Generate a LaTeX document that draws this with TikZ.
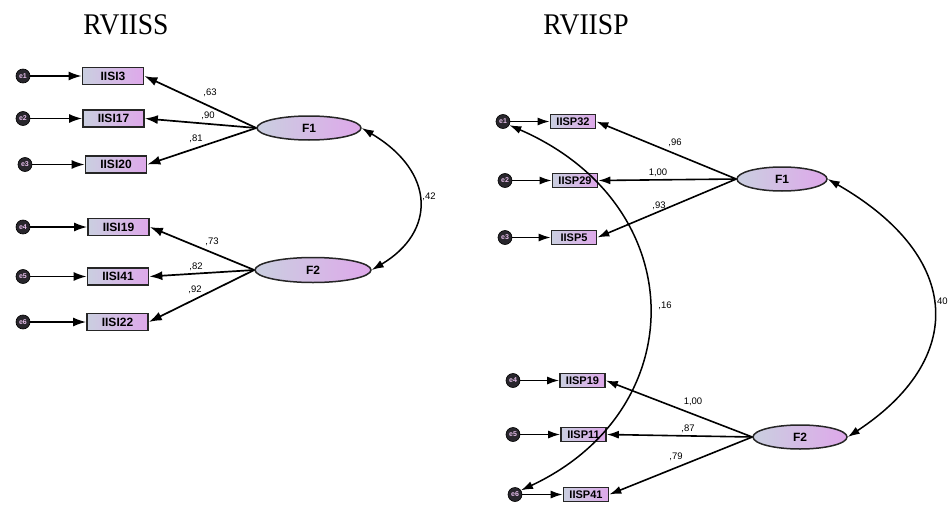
\documentclass[tikz,border=0pt]{standalone}
\usepackage{fontspec}
\setmainfont{Liberation Serif}
\setsansfont{Liberation Sans}
\newfontfamily\titlefont[FakeStretch=0.92]{Liberation Serif}
\usetikzlibrary{arrows.meta,shapes.geometric}
\definecolor{gleft}{RGB}{202,207,224}
\definecolor{gright}{RGB}{222,168,234}
\definecolor{edark}{RGB}{40,38,44}
\definecolor{etext}{RGB}{230,190,235}
\tikzset{
  obsL/.style={draw=black!85, line width=1.7pt, left color=gleft, right color=gright,
    minimum width=61pt, minimum height=17pt, inner sep=0pt,
    font=\sffamily\bfseries\fontsize{12}{12}\selectfont},
  obsR/.style={draw=black!85, line width=1.6pt, left color=gleft, right color=gright,
    minimum width=45pt, minimum height=14pt, inner sep=0pt,
    font=\sffamily\bfseries\fontsize{11}{11}\selectfont},
  latent/.style={ellipse, draw=black!85, line width=1.5pt, left color=gleft, right color=gright,
    inner sep=0pt, font=\sffamily\bfseries\fontsize{12}{12}\selectfont},
  errc/.style={circle, fill=edark, draw=black, line width=0.6pt, minimum size=14pt, inner sep=0pt,
    text=etext, font=\sffamily\bfseries\fontsize{7}{7}\selectfont},
  load/.style={line width=1.7pt, -{Latex[length=13pt,width=9pt]}},
  loadR/.style={line width=1.6pt, -{Latex[length=12pt,width=8pt]}},
  cov/.style={line width=1.5pt, {Latex[length=12pt,width=8pt]}-{Latex[length=12pt,width=8pt]}},
  coef/.style={font=\sffamily\fontsize{9.5}{9.5}\selectfont, inner sep=0pt},
  ttl/.style={font=\titlefont\fontsize{30}{30}\selectfont, inner sep=0pt}
}
\begin{document}
\begin{tikzpicture}[x=1pt,y=-1pt]
\useasboundingbox[fill=white] (0,0) rectangle (951,506);
% titles
\node[ttl] (t1) at (126,25) {RVIISS};
\node[ttl] (t2) at (586,25) {RVIISP};
% ---------------- left model ----------------
\node[obsL] (a1) at (113,76) {IISI3};
\node[obsL] (a2) at (113.5,118.5) {IISI17};
\node[obsL] (a3) at (116,164.5) {IISI20};
\node[obsL] (a4) at (118.5,227) {IISI19};
\node[obsL] (a5) at (118,276.5) {IISI41};
\node[obsL] (a6) at (117.5,322) {IISI22};
\node[latent, minimum width=104pt, minimum height=24pt] (F1a) at (309,128) {F1};
\node[latent, minimum width=116pt, minimum height=25pt] (F2a) at (313,270) {F2};
\node[errc] (ea1) at (23,76) {e1};
\node[errc] (ea2) at (23,118.5) {e2};
\node[errc] (ea3) at (25,164.5) {e3};
\node[errc] (ea4) at (23,227) {e4};
\node[errc] (ea5) at (23,276.5) {e5};
\node[errc] (ea6) at (23,322) {e6};
\foreach \i in {1,...,6} {\draw[load] (ea\i) -- (a\i);}
\draw[load] (F1a.west) -- (a1.east);
\draw[load] (F1a.west) -- (a2.east);
\draw[load] (F1a.west) -- (a3.east);
\draw[load] (F2a.west) -- (a4.east);
\draw[load] (F2a.west) -- (a5.east);
\draw[load] (F2a.west) -- (a6.east);
\draw[cov] (F1a.east) .. controls (436,172) and (436,232) .. (F2a.east);
\node[coef] (la1) at (210,93) {,63};
\node[coef] (la2) at (208,116) {,90};
\node[coef] (la3) at (196,139) {,81};
\node[coef] (la4) at (212,242) {,73};
\node[coef] (la5) at (196,267) {,82};
\node[coef] (la6) at (195,290) {,92};
\node[coef] (la7) at (429,197) {,42};
% ---------------- right model ----------------
\node[obsR] (b1) at (573,121.5) {IISP32};
\node[obsR] (b2) at (575,180.5) {IISP29};
\node[obsR] (b3) at (574,237.5) {IISP5};
\node[obsR] (b4) at (582.5,380.5) {IISP19};
\node[obsR] (b5) at (583.5,434.5) {IISP11};
\node[obsR] (b6) at (586,494.5) {IISP41};
\node[latent, minimum width=90pt, minimum height=24pt] (F1b) at (782,179) {F1};
\node[latent, minimum width=94pt, minimum height=24pt] (F2b) at (800,437) {F2};
\node[errc] (eb1) at (503,121.5) {e1};
\node[errc] (eb2) at (505,180.5) {e2};
\node[errc] (eb3) at (505,237.5) {e3};
\node[errc] (eb4) at (513,380.5) {e4};
\node[errc] (eb5) at (513,434.5) {e5};
\node[errc] (eb6) at (515,494.5) {e6};
\foreach \i in {1,...,6} {\draw[loadR] (eb\i) -- (b\i);}
\draw[loadR] (F1b.west) -- (b1.east);
\draw[loadR] (F1b.west) -- (b2.east);
\draw[loadR] (F1b.west) -- (b3.east);
\draw[loadR] (F2b.west) -- (b4.east);
\draw[loadR] (F2b.west) -- (b5.east);
\draw[loadR] (F2b.west) -- (b6.east);
\draw[cov] (F1b.east) .. controls (965,258) and (965,360) .. (F2b.east);
\draw[cov] (eb1.-30) .. controls (693,205) and (693,410) .. (eb6.35);
\node[coef] (lb1) at (675,143) {,96};
\node[coef] (lb2) at (658,173) {1,00};
\node[coef] (lb3) at (659,206) {,93};
\node[coef] (lb4) at (693,402) {1,00};
\node[coef] (lb5) at (688,429) {,87};
\node[coef] (lb6) at (676,457) {,79};
\node[coef] (lb7) at (941,302) {,40};
\node[coef] (lb8) at (665,306) {,16};
\end{tikzpicture}
\end{document}
